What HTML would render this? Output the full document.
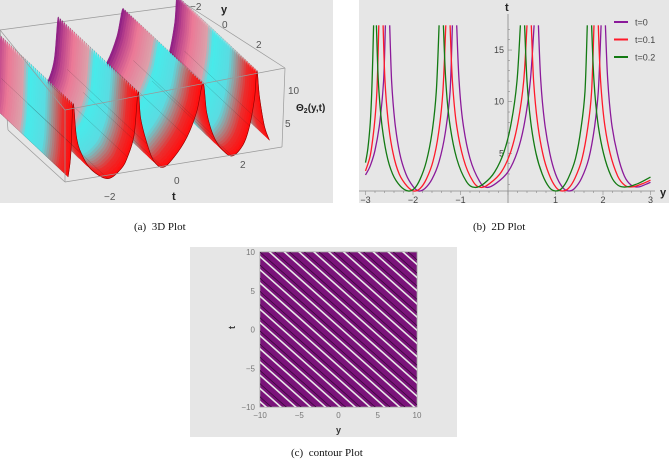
<!DOCTYPE html>
<html><head><meta charset="utf-8"><style>
html,body{margin:0;width:669px;height:464px;overflow:hidden}
body{background:#fff;font-family:"Liberation Sans",sans-serif;position:relative}
.cap{position:absolute;font-family:"Liberation Serif",serif;font-size:11px;color:#111;line-height:12px}
</style></head><body>
<svg id="root" width="669" height="464" style="position:absolute;left:0;top:0;display:block">
<defs>
<clipPath id="cClip"><rect x="260" y="252" width="157" height="155"/></clipPath>
<clipPath id="bClip"><rect x="359" y="14" width="310" height="190"/></clipPath>
<clipPath id="aClip"><rect x="0" y="0" width="333" height="203"/></clipPath>
</defs>
<g id="p1" clip-path="url(#aClip)">
<rect x="0" y="0" width="333" height="203" fill="#e6e6e6"/>
<g stroke="#999" stroke-width="0.7" fill="none">
<line x1="0" y1="30" x2="187" y2="5"/><line x1="187" y1="5" x2="285" y2="68"/><line x1="285" y1="68" x2="282" y2="147"/>
<line x1="0" y1="30" x2="8" y2="130"/><line x1="8" y1="130" x2="65" y2="182"/>
</g>
</g>
<g id="p2">
<rect x="359" y="0" width="310" height="203" fill="#e6e6e6"/>
</g>
<g id="p3">
<rect x="190" y="247" width="267" height="190" fill="#e6e6e6"/>
</g>
</svg>
<div class="cap" style="left:134px;top:221px">(a)&nbsp; 3D Plot</div>
<div class="cap" style="left:473px;top:221px">(b)&nbsp; 2D Plot</div>
<div class="cap" style="left:291px;top:447px">(c)&nbsp; contour Plot</div>
<script>
const NS="http://www.w3.org/2000/svg";
// 3D front profile (t, theta)
const frontT=[-3.3,-3.22,-3.15,-3.05,-2.9,-2.6,-2.1,-1.7,-1.5,-1.3,-1.18,-1.1,-0.9,-0.7,-0.42,-0.1,0.3,0.6,0.79,0.9,1.1,1.35,1.67,2.0,2.2,2.35,2.42,2.5,2.65,2.8];
const frontZ=[1.5,5,13.5,8,5,2,0,1.2,3,6.5,13.5,9,4.5,1.5,0.2,1.5,4.5,8.5,13,8,4,1.5,0,1.5,4.5,9,14,9,4,1.5];
// 2D chart
const xTicks=[-3,-2,-1,1,2,3];
const tTicks=[5,10,15];
const legendLabels=["t=0","t=0.1","t=0.2"];
const seriesColors=["#8b1a9a","#ff1a2a","#137a13"];
const purple=[[[-3,2.9],[-2.9,3.8],[-2.8,5.3],[-2.7,8],[-2.62,12],[-2.58,17.4]],[[-2.49,17.4],[-2.45,12],[-2.38,8],[-2.28,5],[-2.15,3],[-2.0,1.8],[-1.88,1.36],[-1.75,1.6],[-1.6,2.5],[-1.45,4.2],[-1.32,7],[-1.22,11],[-1.17,17.4]],[[-1.08,17.4],[-1.03,12],[-0.95,8],[-0.8,4.5],[-0.6,2.3],[-0.45,1.7],[-0.25,2.1],[0,3.2],[0.2,5.2],[0.35,8],[0.47,12],[0.55,17.4]],[[0.64,17.4],[0.69,12],[0.77,8],[0.88,5],[1.0,3],[1.15,1.7],[1.28,1.36],[1.4,1.6],[1.55,2.6],[1.7,4.5],[1.82,7.5],[1.9,11],[1.96,17.4]],[[2.05,17.4],[2.1,12],[2.18,8],[2.3,5],[2.45,2.8],[2.6,1.9],[2.75,1.75],[2.9,2.0],[3,2.2]]];
const red=[[[-3,3.3],[-2.9,4.8],[-2.82,7.5],[-2.76,11],[-2.72,17.4]],[[-2.63,17.4],[-2.59,12],[-2.52,8],[-2.42,5],[-2.29,3],[-2.12,1.8],[-1.98,1.36],[-1.85,1.6],[-1.72,2.5],[-1.58,4.2],[-1.46,7],[-1.37,11],[-1.31,17.4]],[[-1.22,17.4],[-1.17,12],[-1.09,8],[-0.94,4.5],[-0.74,2.3],[-0.57,1.7],[-0.38,2.1],[-0.14,3.2],[0.06,5.2],[0.21,8],[0.33,12],[0.4,17.4]],[[0.49,17.4],[0.54,12],[0.62,8],[0.73,5],[0.86,3],[1.01,1.7],[1.14,1.36],[1.27,1.6],[1.41,2.6],[1.56,4.5],[1.68,7.5],[1.76,11],[1.81,17.4]],[[1.9,17.4],[1.95,12],[2.03,8],[2.15,5],[2.31,2.8],[2.46,1.9],[2.61,1.75],[2.8,2.0],[3,2.4]]];
const green=[[[-3,4.1],[-2.95,5.5],[-2.9,8],[-2.86,12],[-2.83,17.4]],[[-2.77,17.4],[-2.73,12],[-2.66,8],[-2.56,5],[-2.43,3],[-2.26,1.8],[-2.1,1.36],[-1.97,1.6],[-1.85,2.5],[-1.72,4.2],[-1.6,7],[-1.51,11],[-1.45,17.4]],[[-1.36,17.4],[-1.31,12],[-1.23,8],[-1.08,4.5],[-0.88,2.3],[-0.7,1.7],[-0.5,2.1],[-0.28,3.2],[-0.08,5.2],[0.07,8],[0.19,12],[0.26,17.4]],[[0.35,17.4],[0.4,12],[0.48,8],[0.59,5],[0.72,3],[0.87,1.7],[1.0,1.36],[1.13,1.6],[1.27,2.6],[1.42,4.5],[1.54,7.5],[1.62,11],[1.67,17.4]],[[1.76,17.4],[1.81,12],[1.89,8],[2.01,5],[2.17,2.8],[2.32,1.9],[2.5,1.75],[2.75,2.1],[3,2.7]]];
// contour
const contourTicks=[-10,-5,0,5,10];
const stripeOffsets=[-20,-18.3,-16.6,-14.9,-13.2,-11.5,-9.8,-8.1,-6.4,-4.7,-3,-1.3,0.4,2.1,3.8,5.5,7.2,8.9,10.6,12.3,14,15.7,17.4,19.1];

function mk(tag,attrs,parent){const e=document.createElementNS(NS,tag);for(const k in attrs)e.setAttribute(k,attrs[k]);parent.appendChild(e);return e;}
function smooth(pts){let d='M'+pts[0][0].toFixed(1)+','+pts[0][1].toFixed(1);
 for(let i=0;i<pts.length-1;i++){const p0=pts[Math.max(0,i-1)],p1=pts[i],p2=pts[i+1],p3=pts[Math.min(pts.length-1,i+2)];
 const c1=[p1[0]+(p2[0]-p0[0])/6,p1[1]+(p2[1]-p0[1])/6],c2=[p2[0]-(p3[0]-p1[0])/6,p2[1]-(p3[1]-p1[1])/6];
 d+=' C'+c1.map(v=>v.toFixed(1)).join(',')+' '+c2.map(v=>v.toFixed(1)).join(',')+' '+p2[0].toFixed(1)+','+p2[1].toFixed(1);}return d;}

// ---- 3D plot ----
const p1=document.getElementById('p1');
const px3=(t,z,f)=>[177+33*t-80*f, 166-6*t-6*Math.min(z,13.5)-75*f];
const N=40;
function layerColor(f){
 const stops=[[0,[255,15,15]],[0.1,[235,45,45]],[0.22,[165,140,140]],[0.32,[90,220,225]],[0.52,[70,235,235]],[0.6,[220,160,170]],[0.78,[235,120,150]],[0.9,[190,70,140]],[1,[130,20,130]]];
 for(let i=0;i<stops.length-1;i++){if(f<=stops[i+1][0]){const a=stops[i],b=stops[i+1],u=(f-a[0])/(b[0]-a[0]);return 'rgb('+a[1].map((v,k)=>Math.round(v+(b[1][k]-v)*u)).join(',')+')';}}
 return 'rgb(130,20,130)';}
const prof=f=>frontT.map((t,i)=>px3(t,frontZ[i],f));
for(let k=N-1;k>=0;k--){
 const fa=k/N, fb2=(k+1)/N;
 const A=prof(fa), B=prof(fb2).reverse();
 const d=smooth(A)+' L'+smooth(B).slice(1)+' Z';
 const col=layerColor(fa);
 const el=mk('path',{d:d,fill:col,stroke:col,'stroke-width':0.5,'stroke-linejoin':'round'},p1);
 
 
}
// mesh lines along depth
for(let i=0;i<frontT.length;i+=2){
 const pts=[];for(let k=0;k<=N;k+=2)pts.push(px3(frontT[i],frontZ[i],k/N));
 const m=mk('polyline',{points:pts.map(p=>p[0].toFixed(1)+','+p[1].toFixed(1)).join(' '),fill:'none',stroke:'#222','stroke-width':0.3,opacity:0.5},p1);
 
 
}
const fl=mk('path',{d:smooth(prof(0)),fill:'none',stroke:'#8a0000','stroke-width':0.6},p1);


const fb=mk('g',{stroke:'#999','stroke-width':0.7,fill:'none'},p1);


mk('line',{x1:65,y1:182,x2:282,y2:147},fb);mk('line',{x1:65,y1:110,x2:285,y2:68},fb);mk('line',{x1:65,y1:110,x2:65,y2:182},fb);mk('line',{x1:0,y1:30,x2:65,y2:110},fb);
const a3=[["−2",190,10,'y-tick'],["0",222,28,'y-tick'],["2",256,48,'y-tick'],["10",288,94,'z-tick'],["5",285,127,'z-tick'],["−2",104,200,'t-tick'],["0",174,184,'t-tick'],["2",240,168,'t-tick']];
a3.forEach(a=>{const t=mk('text',{x:a[1],y:a[2],'font-size':10,fill:'#555'},p1);t.textContent=a[0];
 
 });
let ya=mk('text',{x:221,y:13,'font-size':11,'font-weight':'bold',fill:'#222'},p1);ya.textContent='y';


let ta=mk('text',{x:172,y:200,'font-size':11,'font-weight':'bold',fill:'#222'},p1);ta.textContent='t';


let za=mk('text',{x:296,y:111,'font-size':10,'font-weight':'bold',fill:'#222'},p1);za.innerHTML='Θ<tspan font-size="7" dy="2">2</tspan><tspan dy="-2">(y,t)</tspan>';



// ---- 2D plot ----
const sx=y=>508+47.5*y, st=t=>205-10.33*t;
const p2=document.getElementById('p2');
let ax=mk('line',{x1:359,y1:191,x2:655,y2:191,stroke:'#888','stroke-width':0.8},p2);


let ay=mk('line',{x1:508,y1:14,x2:508,y2:203,stroke:'#888','stroke-width':0.8},p2);


for(let v=-3;v<=3.001;v+=0.2){mk('line',{x1:sx(v),y1:191,x2:sx(v),y2:Math.abs(v-Math.round(v))<0.01?195:193,stroke:'#888','stroke-width':0.6},p2);}
for(let v=2;v<=17;v+=1){mk('line',{x1:508,y1:st(v),x2:v%5==0?512:510,y2:st(v),stroke:'#888','stroke-width':0.6},p2);}
xTicks.forEach(v=>{const t=mk('text',{x:sx(v),y:203,'font-size':9,'text-anchor':'middle',fill:'#444'},p2);t.textContent=v<0?'−'+(-v):v;

});
tTicks.forEach(v=>{const t=mk('text',{x:504,y:st(v)+3,'font-size':9,'text-anchor':'end',fill:'#444'},p2);t.textContent=v;

});
let tl=mk('text',{x:505,y:11,'font-size':11,'font-weight':'bold',fill:'#222'},p2);tl.textContent='t';


let yl=mk('text',{x:660,y:196,'font-size':11,'font-weight':'bold',fill:'#222'},p2);yl.textContent='y';


const cg=mk('g',{'clip-path':'url(#bClip)'},p2);
[purple,red,green].forEach((ser,i)=>{ser.forEach(seg=>{
 const p=mk('path',{d:smooth(seg.map(d=>[sx(d[0]),st(d[1])])),fill:'none',stroke:seriesColors[i],'stroke-width':1.3},cg);
 
 
});
 const ly=22+i*17.5;
 const ll=mk('line',{x1:614,y1:ly,x2:628,y2:ly,stroke:seriesColors[i],'stroke-width':2},p2);
 
 
 const lt=mk('text',{x:635,y:ly+3.5,'font-size':9,fill:'#444'},p2);lt.textContent=legendLabels[i];
 
 
});

// ---- contour ----
const p3=document.getElementById('p3');
const cx=v=>338.5+7.85*v, cy=v=>329.5-7.75*v;
let fr=mk('rect',{x:260,y:252,width:157,height:155,fill:'#7a137a',stroke:'#999','stroke-width':0.8},p3);


const sg=mk('g',{'clip-path':'url(#cClip)'},p3);
stripeOffsets.forEach(o=>{
 const x1=-12,x2=12;
 const l=mk('line',{x1:cx(x1),y1:cy(o-0.9*x1),x2:cx(x2),y2:cy(o-0.9*x2),stroke:'#e8e8e8','stroke-width':1.6},sg);
 
 
 const d=mk('line',{x1:cx(x1),y1:cy(o+0.6-0.9*x1),x2:cx(x2),y2:cy(o+0.6-0.9*x2),stroke:'#3a0a3a','stroke-width':0.8},sg);
 
 
});
contourTicks.forEach(v=>{
 const a=mk('text',{x:cx(v),y:418,'font-size':8,'text-anchor':'middle',fill:'#777'},p3);a.textContent=v<0?'−'+(-v):v;
 
 
 const b=mk('text',{x:255,y:cy(v)+3,'font-size':8,'text-anchor':'end',fill:'#777'},p3);b.textContent=v<0?'−'+(-v):v;
 
 
});
let ct=mk('text',{x:232,y:332,'font-size':9,'font-weight':'bold',fill:'#333',transform:'rotate(-90 232 329)'},p3);ct.textContent='t';


let cyl=mk('text',{x:336,y:433,'font-size':9,'font-weight':'bold',fill:'#333'},p3);cyl.textContent='y';


</script>
</body></html>
